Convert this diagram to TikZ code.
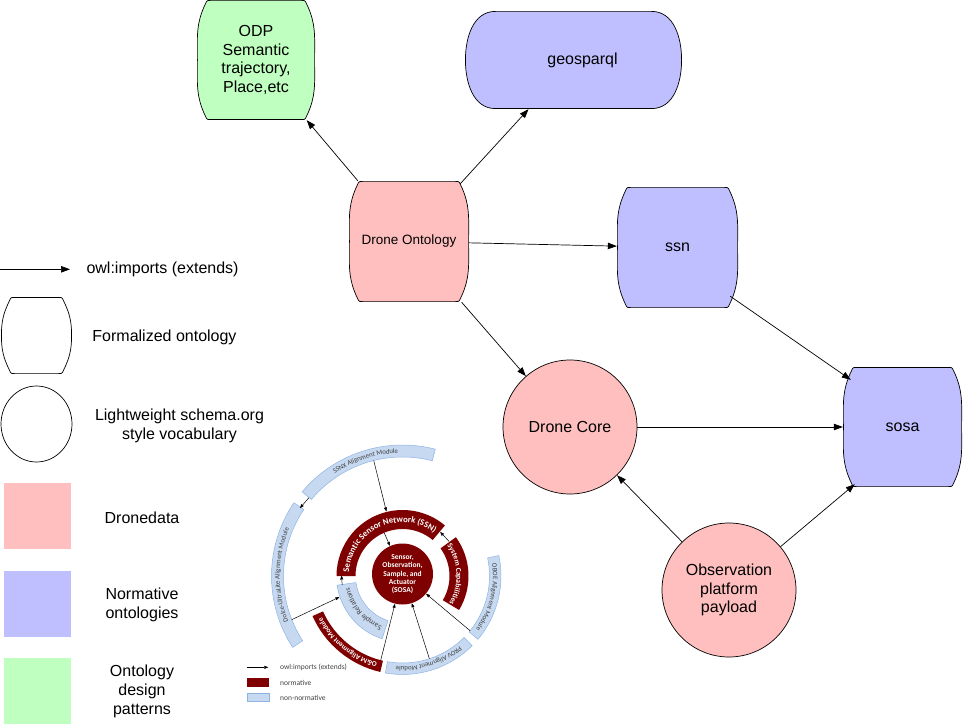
\documentclass[tikz,border=0pt]{standalone}
\usepackage{fontspec}
\setmainfont{Liberation Sans}
\newfontfamily\insetfont{Carlito}
\usepackage{xcolor}
\definecolor{dronepink}{HTML}{FFBFBF}
\definecolor{normblue}{HTML}{BFBFFF}
\definecolor{odpgreen}{HTML}{BFFFBF}
\definecolor{ssnred}{HTML}{7F0000}
\definecolor{modblue}{HTML}{C6D9F1}
\definecolor{modedge}{HTML}{8EB4E3}
\definecolor{modtext}{HTML}{404040}
\usepackage{tikz}
\usetikzlibrary{arrows.meta, positioning, shapes.geometric, calc, decorations.text}

% text formats for the SSN rings
\newcommand{\ssnfmt}{\insetfont\bfseries\fontsize{8.7}{9}\selectfont\color{white}}
\newcommand{\capfmt}{\insetfont\bfseries\fontsize{7.6}{8}\selectfont\color{white}}
\newcommand{\omfmt}{\insetfont\bfseries\fontsize{7.2}{8}\selectfont\color{white}}
\newcommand{\srfmt}{\insetfont\fontsize{7.5}{8}\selectfont\color{modtext}}
\newcommand{\modfmt}{\insetfont\fontsize{6.8}{7}\selectfont\color{modtext}}

% ring band: start angle, end angle, inner radius, outer radius, style
\newcommand{\ringband}[5]{%
  \draw[#5] ($(sc)+(#1:#4)$) arc[start angle=#1, end angle=#2, radius=#4]
    -- ($(sc)+(#2:#3)$) arc[start angle=#2, end angle=#1, radius=#3] -- cycle;}
% text on a ring band, clockwise: start angle, end angle, radius, text
\newcommand{\ringlabel}[4]{%
  \path[decorate, decoration={text along path, text align=center, text={#4}}]
    ($(sc)+(#1:#3)$) arc[start angle=#1, end angle=#2, radius=#3];}

\tikzset{
  imp/.style={-{Triangle[length=9pt,width=6.5pt]}, line width=0.7pt},
  subimp/.style={-{Triangle[length=4pt,width=3pt]}, line width=0.5pt},
  barrel/.style={minimum width=120pt, minimum height=120pt, inner sep=0pt, align=center,
    path picture={
      \draw[line width=0.7pt, fill=#1]
        let \p1=([shift={(0.4pt,0.4pt)}]path picture bounding box.south west),
            \p2=([shift={(-0.4pt,-0.4pt)}]path picture bounding box.north east),
            \p3=($(\p1)!0.5!(\p2)$) in
        (\x1+13pt,\y2) -- (\x2-13pt,\y2) .. controls (\x2-9.5pt,\y2) .. (\x2-8pt,\y2-3.5pt)
        to[out=-64,in=90] (\x2,\y3) to[out=-90,in=64] (\x2-8pt,\y1+3.5pt)
        .. controls (\x2-9.5pt,\y1) .. (\x2-13pt,\y1) -- (\x1+13pt,\y1)
        .. controls (\x1+9.5pt,\y1) .. (\x1+8pt,\y1+3.5pt)
        to[out=116,in=-90] (\x1,\y3) to[out=90,in=-116] (\x1+8pt,\y2-3.5pt)
        .. controls (\x1+9.5pt,\y2) .. (\x1+13pt,\y2) -- cycle;}},
  capsule/.style={inner sep=0pt,
    path picture={
      \draw[line width=0.7pt, fill=#1]
        let \p1=([shift={(0.4pt,0.4pt)}]path picture bounding box.south west),
            \p2=([shift={(-0.4pt,-0.4pt)}]path picture bounding box.north east),
            \p3=($(\p1)!0.5!(\p2)$) in
        (\x1+30pt,\y2) -- (\x2-30pt,\y2) to[out=0,in=90] (\x2,\y3) to[out=-90,in=0] (\x2-30pt,\y1)
        -- (\x1+30pt,\y1) to[out=180,in=-90] (\x1,\y3) to[out=90,in=180] (\x1+30pt,\y2) -- cycle;}},
  vocab/.style={circle, draw, line width=0.7pt, fill=dronepink, minimum size=134pt, inner sep=0pt, align=center},
  swatch/.style={minimum width=67pt, minimum height=66pt, inner sep=0pt},
  normband/.style={fill=ssnred, draw=none},
  modband/.style={fill=modblue, draw=modedge, line width=0.5pt},
  sosatext/.style={align=center, text=white, inner sep=0pt, font=\insetfont\bfseries\fontsize{7.5}{8.4}\selectfont},
  keytext/.style={anchor=west, inner sep=0pt, text=modtext, font=\insetfont\fontsize{7.5}{8}\selectfont}
}

\begin{document}
\begin{tikzpicture}[x=1pt, y=1pt, font=\fontsize{16}{18.8}\selectfont]
  \useasboundingbox (0,0) rectangle (963,724);

  % Ontologies
  \node[barrel=odpgreen, minimum width=118pt] (odp) at (256,664) {ODP\\Semantic\\trajectory,\\Place,etc};
  \node[capsule=normblue, minimum width=217pt, minimum height=98pt] (geo) at (573.5,664) {\hspace*{18pt}geosparql};
  \node[barrel=dronepink, minimum height=121pt, font=\fontsize{13.5}{16}\selectfont] (dronto) at (409,482.5) {Drone Ontology};
  \node[barrel=normblue, minimum width=121pt, minimum height=121pt] (ssn) at (677.5,476.5) {ssn};
  \node[barrel=normblue, minimum width=119pt] (sosa) at (902.5,297) {sosa};

  % Vocabularies
  \node[vocab] (core) at (570,297) {Drone Core};
  \node[vocab] (obs) at (729,134) {Observation\\platform\\payload};

  % Imports
  \draw[imp] (dronto) -- (odp);
  \draw[imp] ([shift={(-9pt,-3pt)}]dronto.north east) -- (geo);
  \draw[imp] (dronto) -- (ssn);
  \draw[imp] (dronto) -- (core);
  \draw[imp] ([shift={(-8pt,12pt)}]ssn.south east) -- ([shift={(8pt,-13pt)}]sosa.north west);
  \draw[imp] (core) -- (sosa);
  \draw[imp] (obs) -- (core);
  \draw[imp] (obs) -- ([shift={(12pt,3pt)}]sosa.south west);

  % Legend
  \coordinate (key-from) at (0,454.7);
  \coordinate (key-to) at (70,454.7);
  \draw[imp] (key-from) -- (key-to);
  \node[anchor=west] (key-imp) at (83,454.5) {owl:imports (extends)};
  \node[barrel=white, minimum width=71pt, minimum height=77pt] (key-onto) at (36.5,388.5) {};
  \node (key-onto-t) at (164.5,387) {Formalized ontology};
  \node[ellipse, draw, line width=0.7pt, minimum width=71pt, minimum height=76pt, inner sep=0pt] (key-vocab) at (36.5,300) {};
  \node[align=center] (key-vocab-t) at (179.5,298) {Lightweight schema.org\\style vocabulary};
  \node[swatch, fill=dronepink] (key-drone) at (37.5,208) {};
  \node (key-drone-t) at (142,206) {Dronedata};
  \node[swatch, fill=normblue] (key-norm) at (37.5,120) {};
  \node[align=center] (key-norm-t) at (142,119.5) {Normative\\ontologies};
  \node[swatch, fill=odpgreen] (key-odp) at (37.5,33) {};
  \node[align=center] (key-odp-t) at (142,32.5) {Ontology\\design\\patterns};

  % SOSA/SSN modules
  \coordinate (sc) at (402.5,148);
  % outer ring
  \ringband{75.5}{140}{119}{131}{modband}
  \ringband{146}{213}{119}{131}{modband}
  % middle ring
  \ringband{204}{257}{87}{98.5}{normband}
  \ringband{260}{315}{87}{98.5}{modband}
  \ringband{320}{372}{87}{98.5}{modband}
  % inner ring
  \ringband{50}{180}{47}{66}{normband}
  \ringband{-31}{36}{47}{66}{normband}
  \ringband{188}{252}{47}{66}{modband}
  \node[circle, fill=ssnred, minimum size=61pt, inner sep=0pt] (sosac) at (402.5,150) {};
  \node[sosatext] (sosat) at (402.5,149.7) {Sensor,\\Observation,\\Sample, and\\Actuator\\(SOSA)};

  \ringlabel{180}{50}{53.7}{|\ssnfmt|Semantic Sensor Network (SSN)}
  \ringlabel{42}{-38}{54}{|\capfmt|System Capabilities}
  \ringlabel{252}{188}{54}{|\srfmt|Sample Relations}
  \ringlabel{257}{204}{90.5}{|\omfmt|O{\&}M Alignment Module}
  \ringlabel{315}{260}{90.5}{|\modfmt|PROV Alignment Module}
  \ringlabel{12}{-40}{90.5}{|\modfmt|OBOE Alignment Module}
  \ringlabel{140}{75.5}{122.8}{|\modfmt|SSNX Alignment Module}
  \ringlabel{213}{146}{122.8}{|\modfmt|Dolce-UltraLite Alignment Module}

  \coordinate (ssnx-s) at ($(sc)+(104:119)$);
  \coordinate (ssn-t) at ($(sc)+(104:66.5)$);
  \coordinate (ssn-s) at ($(sc)+(113:47)$);
  \coordinate (ssnx-l) at ($(sc)+(140:122)$);
  \coordinate (dolce-t) at ($(sc)+(146.5:123)$);
  \coordinate (cap-t) at ($(sc)+(36.5:58)$);
  \coordinate (ssn-r) at ($(sc)+(49.5:58)$);
  \coordinate (sr-t) at ($(sc)+(188.5:61)$);
  \coordinate (ssn-l) at ($(sc)+(179.5:61)$);
  \coordinate (dolce-s) at ($(sc)+(201.5:119)$);
  \coordinate (sr-o) at ($(sc)+(198.5:66.5)$);
  \coordinate (om-s) at ($(sc)+(255.5:87)$);
  \coordinate (prov-s) at ($(sc)+(288:87)$);
  \coordinate (oboe-s) at ($(sc)+(321:87)$);
  \draw[subimp] (ssnx-s) -- (ssn-t);
  \draw[subimp] (ssn-s) -- (sosac);
  \draw[subimp] (ssnx-l) -- (dolce-t);
  \draw[subimp] (cap-t) -- (ssn-r);
  \draw[subimp] (sr-t) -- (ssn-l);
  \draw[subimp] (dolce-s) -- (sr-o);
  \draw[subimp] (om-s) -- (sosac);
  \draw[subimp] (prov-s) -- (sosac);
  \draw[subimp] (oboe-s) -- (sosac);

  % module key
  \coordinate (mkey-from) at (246.7,56.7);
  \coordinate (mkey-to) at (268.3,56.7);
  \draw[subimp] (mkey-from) -- (mkey-to);
  \node[keytext] (mkey-imp) at (280,56.7) {owl:imports (extends)};
  \node[fill=ssnred, minimum width=22.6pt, minimum height=8.4pt, inner sep=0pt] (mkey-norm) at (258,41.5) {};
  \node[keytext] (mkey-norm-t) at (280,41.3) {normative};
  \node[modband, minimum width=22pt, minimum height=8.4pt, inner sep=0pt] (mkey-mod) at (258.3,26.5) {};
  \node[keytext] (mkey-mod-t) at (280,26.3) {non-normative};
\end{tikzpicture}
\end{document}
